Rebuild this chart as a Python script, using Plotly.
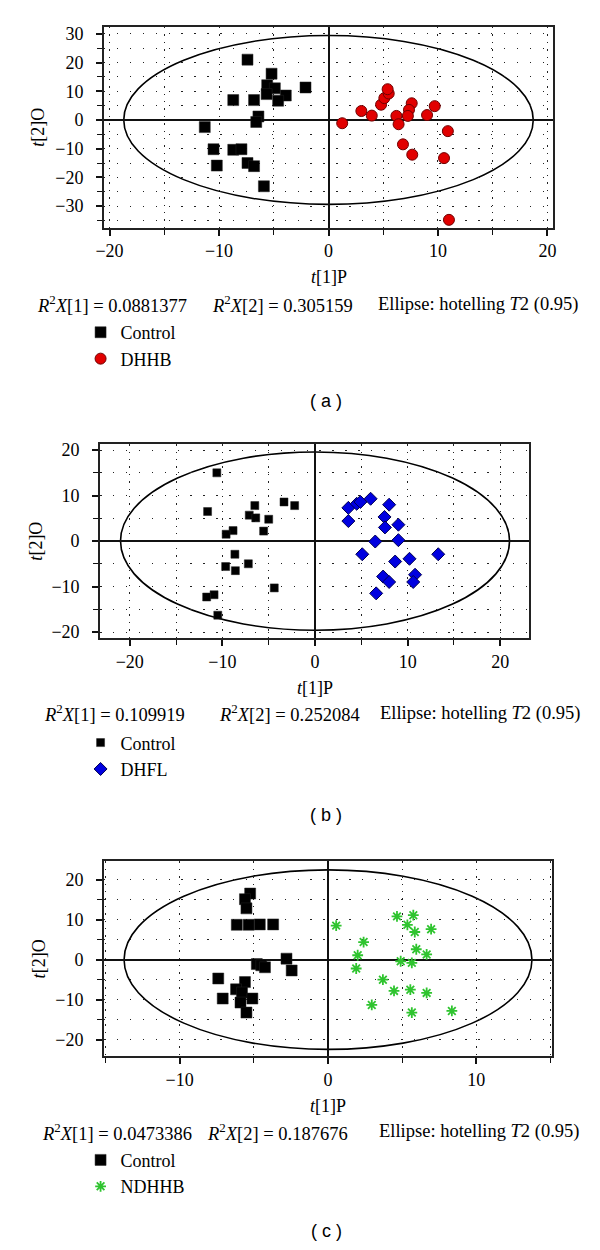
"""
OPLS-DA score plots: Control vs DHHB, DHFL and NDHHB
"""

import plotly.graph_objects as go

# page body has an 8px margin, so the figure is a bit smaller than the window
OFF = 8
W, H = 600 - OFF, 1250 - OFF
SERIF = "Liberation Serif"

# ---- panel (a): Control vs DHHB ----
a_ctrl_x = [-7.4, -5.2, -5.6, -4.9, -5.65, -3.9, -4.6, -2.1, -8.7, -6.8,
            -6.4, -6.6, -11.3, -10.5, -8.7, -7.95, -10.2, -7.4, -6.8, -5.9]
a_ctrl_y = [21.0, 16.1, 12.1, 11.0, 9.0, 8.5, 6.7, 11.3, 6.9, 6.9,
            1.2, -0.7, -2.5, -10.2, -10.4, -10.2, -15.9, -15.0, -16.1, -23.1]
a_trt_x = [1.25, 3.0, 3.95, 4.8, 5.1, 5.5, 5.4, 6.2, 6.4, 7.6,
           7.35, 7.25, 9.0, 9.7, 10.9, 6.8, 7.65, 10.55, 11.0]
a_trt_y = [-1.15, 3.1, 1.5, 5.3, 7.6, 9.2, 10.7, 1.4, -1.5, 5.8,
           3.5, 1.4, 1.7, 4.8, -3.9, -8.5, -12.1, -13.3, -34.8]

# ---- panel (b): Control vs DHFL ----
b_ctrl_x = [-10.6, -11.6, -6.5, -3.35, -2.2, -7.1, -6.4, -5.0, -5.55, -8.85,
            -9.6, -8.65, -9.65, -8.6, -7.2, -4.4, -10.9, -11.7, -10.5]
b_ctrl_y = [15.0, 6.5, 7.8, 8.6, 7.8, 5.7, 5.1, 4.8, 2.2, 2.3,
            1.5, -2.9, -5.6, -6.5, -5.0, -10.3, -11.8, -12.3, -16.3]
b_trt_x = [3.6, 4.5, 4.9, 6.0, 8.0, 3.6, 7.5, 7.55, 9.0, 6.5,
           9.0, 5.1, 8.65, 10.2, 13.3, 7.35, 8.0, 10.8, 10.6, 6.6]
b_trt_y = [7.3, 8.2, 8.6, 9.3, 8.0, 4.4, 5.3, 3.0, 3.6, -0.1,
           0.2, -2.9, -4.5, -3.9, -2.9, -7.8, -9.0, -7.4, -9.0, -11.5]

# ---- panel (c): Control vs NDHHB ----
c_ctrl_x = [-5.25, -5.6, -5.5, -6.15, -5.35, -4.6, -3.7, -2.8, -2.45, -4.8,
            -4.5, -4.25, -7.4, -5.6, -6.2, -5.8, -7.1, -5.1, -5.9, -5.5]
c_ctrl_y = [16.5, 15.1, 12.8, 8.7, 8.7, 8.8, 8.8, 0.25, -2.7, -1.1,
            -1.4, -1.9, -4.7, -5.6, -7.4, -8.2, -9.7, -9.7, -10.7, -13.2]
c_trt_x = [0.55, 4.65, 5.75, 5.35, 5.85, 6.95, 2.4, 2.0, 5.95, 6.65,
           4.9, 5.65, 1.9, 3.7, 4.45, 5.55, 6.65, 2.95, 5.65, 8.35]
c_trt_y = [8.5, 10.8, 11.1, 8.7, 6.9, 7.6, 4.4, 1.1, 2.6, 1.3,
           -0.4, -0.8, -2.2, -5.0, -7.8, -7.5, -8.3, -11.3, -13.2, -12.8]

# Hotelling T2 (0.95) ellipse half-axes (t[1], t[2]) per panel
ellipse_a = [18.7, 21.0, 13.75]
ellipse_b = [29.4, 19.6, 22.4]

# R2X values per panel
r2x1 = ["0.0881377", "0.109919", "0.0473386"]
r2x2 = ["0.305159", "0.252084", "0.187676"]
group_names = ["DHHB", "DHFL", "NDHHB"]
panel_tags = ["a", "b", "c"]


def px_x(p):
    """window pixel -> paper x"""
    return (p - OFF) / W


def px_y(p):
    """window pixel -> paper y"""
    return 1 - (p - OFF) / H


def axis_style(domain, rng, is_x, anchor):
    dash = "1.4px,6px" if is_x else "1.4px,11.5px"
    return dict(
        domain=domain, range=rng, anchor=anchor,
        dtick=10, tick0=0,
        ticks="outside", ticklen=6, tickwidth=1.5, tickcolor="#111",
        showline=True, linecolor="#222", linewidth=2, mirror=True,
        showgrid=True, gridcolor="#222", gridwidth=1.4, griddash=dash,
        zeroline=True, zerolinecolor="#111", zerolinewidth=1.5,
        minor=dict(dtick=5, tick0=0, ticks="outside", ticklen=5,
                   tickwidth=1.2, tickcolor="#111", showgrid=True,
                   gridcolor="#222", gridwidth=1.4, griddash=dash),
        tickfont=dict(family=SERIF, size=18, color="black"),
        ticklabelstandoff=0 if is_x else 9,
    )


fig = go.Figure()

panels = [
    dict(xd=(97, 556), yd=(23, 225), xr=[-20.5, 20.5], yr=[-37.5, 32.4],
         ctrl=(a_ctrl_x, a_ctrl_y), trt=(a_trt_x, a_trt_y), ctrl_size=11,
         trt_marker=dict(symbol="circle", size=11, color="#e10000",
                         line=dict(color="#700000", width=1)),
         text_y=302, r2_x=(26, 205, 375), ytitle_x=30,
         leg_top=312, tag_y=400),
    dict(xd=(93, 531.5), yd=(443, 638), xr=[-23.2, 23.1], yr=[-21.3, 21.3],
         ctrl=(b_ctrl_x, b_ctrl_y), trt=(b_trt_x, b_trt_y), ctrl_size=8,
         trt_marker=dict(symbol="diamond", size=10, color="#0000e0",
                         line=dict(color="#000050", width=1)),
         text_y=714, r2_x=(34, 212, 377), ytitle_x=28,
         leg_top=725, tag_y=816),
    dict(xd=(97, 555), yd=(863, 1059), xr=[-15.1, 15.1], yr=[-24.1, 24.5],
         ctrl=(c_ctrl_x, c_ctrl_y), trt=(c_trt_x, c_trt_y), ctrl_size=11,
         trt_marker=dict(symbol="asterisk-open", size=9, color="#2fc42f",
                         line=dict(color="#2fc42f", width=1.8)),
         text_y=1135, r2_x=(32, 200, 376), ytitle_x=30,
         leg_top=1145, tag_y=1235),
]

annotations = []
shapes = []
layout_axes = {}

for i, p in enumerate(panels):
    n = "" if i == 0 else str(i + 1)
    xa, ya = "x" + n, "y" + n
    layout_axes["xaxis" + n] = axis_style(
        [px_x(p["xd"][0]), px_x(p["xd"][1])], p["xr"], True, ya)
    layout_axes["yaxis" + n] = axis_style(
        [px_y(p["yd"][1]), px_y(p["yd"][0])], p["yr"], False, xa)
    leg = "legend" if i == 0 else "legend" + str(i + 1)

    fig.add_trace(go.Scatter(
        x=p["ctrl"][0], y=p["ctrl"][1], mode="markers", name="Control",
        xaxis=xa, yaxis=ya, legend=leg,
        marker=dict(symbol="square", size=p["ctrl_size"], color="black",
                    line=dict(color="#222", width=0.5)),
    ))
    fig.add_trace(go.Scatter(
        x=p["trt"][0], y=p["trt"][1], mode="markers", name=group_names[i],
        xaxis=xa, yaxis=ya, legend=leg, marker=p["trt_marker"],
    ))

    shapes.append(dict(type="circle", xref=xa, yref=ya, layer="below",
                       x0=-ellipse_a[i], x1=ellipse_a[i],
                       y0=-ellipse_b[i], y1=ellipse_b[i],
                       line=dict(color="black", width=1.6)))

    font = dict(family=SERIF, size=18, color="black")
    # axis titles
    xmid = (p["xd"][0] + p["xd"][1]) / 2
    annotations.append(dict(
        text="<i>t</i>[1]P", xref="paper", yref="paper",
        x=px_x(xmid), y=px_y(p["yd"][1] + 50), showarrow=False,
        xanchor="center", yanchor="middle", font=font))
    annotations.append(dict(
        text="<i>t</i>[2]O", xref="paper", yref="paper", textangle=-90,
        x=px_x(p["ytitle_x"]), y=px_y((p["yd"][0] + p["yd"][1]) / 2),
        showarrow=False, xanchor="center", yanchor="middle", font=font))
    # R2X line
    texts = [
        "<i>R</i><sup>2</sup><i>X</i>[1] = " + r2x1[i],
        "<i>R</i><sup>2</sup><i>X</i>[2] = " + r2x2[i],
        "Ellipse: hotelling <i>T</i>2 (0.95)",
    ]
    for t, xx in zip(texts, p["r2_x"]):
        annotations.append(dict(
            text=t, xref="paper", yref="paper", x=px_x(xx),
            y=px_y(p["text_y"]), showarrow=False, xanchor="left",
            yanchor="middle",
            font=dict(family=SERIF, size=18.5, color="black")))
    # panel tag
    annotations.append(dict(
        text="( " + panel_tags[i] + " )", xref="paper", yref="paper",
        x=px_x(324), y=px_y(p["tag_y"]), showarrow=False,
        xanchor="center", yanchor="middle",
        font=dict(family="Liberation Sans", size=18, color="black")))

    layout_axes[leg] = dict(
        x=px_x(73), y=px_y(p["leg_top"]), xanchor="left", yanchor="top",
        bgcolor="rgba(0,0,0,0)", borderwidth=0,
        font=dict(family=SERIF, size=18, color="black"),
        itemsizing="trace",
    )

fig.update_layout(
    width=W, height=H,
    margin=dict(l=0, r=0, t=0, b=0),
    paper_bgcolor="white", plot_bgcolor="white",
    showlegend=True,
    shapes=shapes,
    annotations=annotations,
    **layout_axes,
)

fig.write_html("out.html")
